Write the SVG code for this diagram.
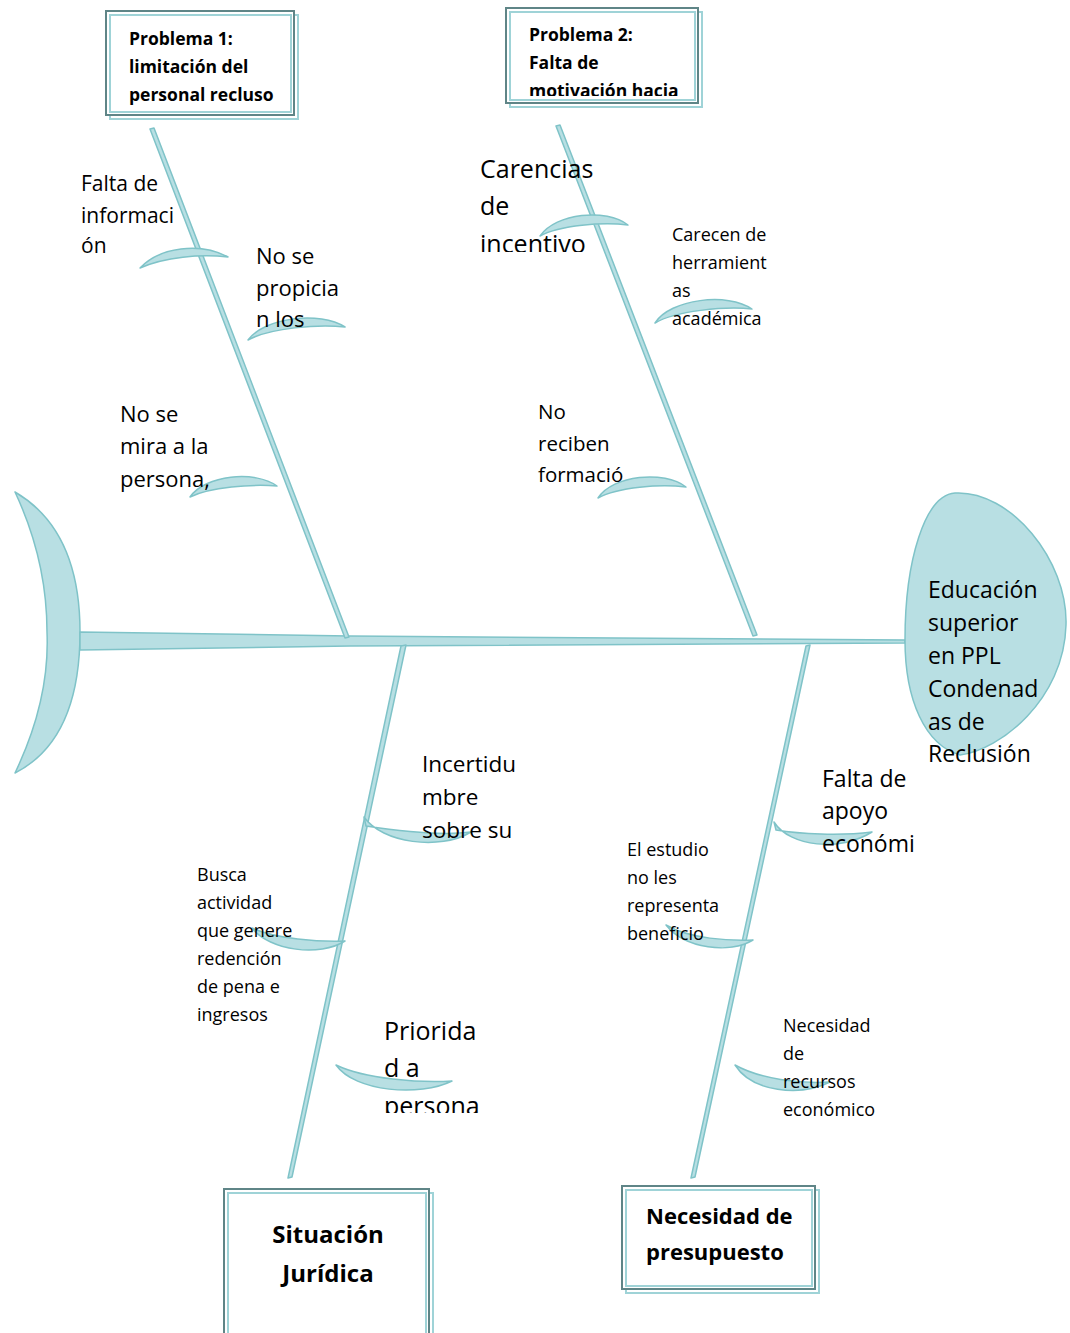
<svg xmlns="http://www.w3.org/2000/svg" width="1070" height="1333" viewBox="0 0 1070 1333">
<style>
.f{fill:#b8dfe3;stroke:#7fc3c8;stroke-width:1.5;stroke-linejoin:round}
.t{font-family:"Open Sans","Liberation Sans",sans-serif;fill:#000}
.b{font-family:"Open Sans","Liberation Sans",sans-serif;font-weight:bold;fill:#000}
.dk{fill:#fff;stroke:#5f8587;stroke-width:2}
.lt{fill:none;stroke:#9fd3d7;stroke-width:2}
</style>
<defs>
<clipPath id="c1"><rect x="500" y="0" width="210" height="96"/></clipPath>
<clipPath id="c2"><rect x="470" y="140" width="200" height="112"/></clipPath>
<clipPath id="c3"><rect x="380" y="1000" width="150" height="113"/></clipPath>
</defs>
<rect width="1070" height="1333" fill="#fff"/>
<g id="connectors">
<path class="f" d="M15,492 Q80,530 80,632 Q80,740 15,773 Q50,700 47,632 Q47,560 15,492 Z"/>
<path class="f" d="M80,632 L350,636 L905,640 L905,643 L350,646 L80,650 Z"/>
<path class="f" d="M150,129 L154,128 L349,637 L345,638 Z"/>
<path class="f" d="M556,126 L560,125 L757,635 L753,636 Z"/>
<path class="f" d="M401,646 L406,645 L292,1177 L288,1178 Z"/>
<path class="f" d="M806,646 L810,645 L695,1177 L691,1178 Z"/>
<path class="f" d="M140,268 C160,247 200,242 228,257 C200,254 165,257 140,268 Z"/>
<path class="f" d="M248,340 C265,317 320,311 345,327 C318,324 270,328 248,340 Z"/>
<path class="f" d="M190,497 C205,475 255,470 277,486 C252,484 210,487 190,497 Z"/>
<path class="f" d="M540,236 C556,213 606,208 628,225 C603,222 560,225 540,236 Z"/>
<path class="f" d="M655,323 C670,299 728,292 752,309 C725,306 675,311 655,323 Z"/>
<path class="f" d="M598,498 C613,475 664,470 686,487 C660,484 618,487 598,498 Z"/>
<path class="f" d="M364,817 C382,843 440,851 471,832 C440,836 392,830 366,826 Z"/>
<path class="f" d="M252,928 C270,951 320,957 345,941 C320,942 275,939 252,928 Z"/>
<path class="f" d="M336,1065 C355,1092 420,1097 452,1081 C420,1083 365,1079 336,1065 Z"/>
<path class="f" d="M774,822 C790,847 840,852 872,832 C840,836 800,834 776,830 Z"/>
<path class="f" d="M666,925 C685,949 730,954 753,940 C730,941 690,939 666,925 Z"/>
<path class="f" d="M735,1065 C752,1092 800,1097 830,1082 C800,1084 760,1079 735,1065 Z"/>
</g>
<g id="head">
<path class="f" d="M955,493 C1010,490 1068,560 1066,625 C1064,700 1000,750 960,755 C925,745 905,700 905,640 C905,560 925,495 955,493 Z"/>
<text class="t" font-size="23"><tspan x="928" y="598">Educación</tspan><tspan x="928" y="631">superior</tspan><tspan x="928" y="664">en PPL</tspan><tspan x="928" y="697">Condenad</tspan><tspan x="928" y="730">as de</tspan><tspan x="928" y="762">Reclusión</tspan></text>
</g>
<g id="box1">
<rect class="lt" x="110" y="15" width="188" height="104"/>
<rect class="dk" x="106" y="11" width="188" height="104"/>
<rect class="lt" x="110" y="15" width="181" height="97"/>
<text class="b" font-size="17.5"><tspan x="129" y="45">Problema 1:</tspan><tspan x="129" y="73">limitación del</tspan><tspan x="129" y="101">personal recluso</tspan></text>
</g>
<g id="box2">
<rect class="lt" x="510" y="12" width="192" height="95"/>
<rect class="dk" x="506" y="8" width="192" height="95"/>
<rect class="lt" x="510" y="12" width="185" height="88"/>
<text class="b" font-size="17.5" clip-path="url(#c1)"><tspan x="529" y="41">Problema 2:</tspan><tspan x="529" y="69">Falta de</tspan><tspan x="529" y="97">motivación hacia</tspan></text>
</g>
<g id="box3">
<rect class="lt" x="228" y="1193" width="205" height="150"/>
<rect class="dk" x="224" y="1189" width="205" height="150"/>
<rect class="lt" x="228" y="1193" width="198" height="150"/>
<text class="b" font-size="24" text-anchor="middle"><tspan x="328" y="1243">Situación</tspan><tspan x="328" y="1282">Jurídica</tspan></text>
</g>
<g id="box4">
<rect class="lt" x="626" y="1190" width="193" height="103"/>
<rect class="dk" x="622" y="1186" width="193" height="103"/>
<rect class="lt" x="626" y="1190" width="186" height="96"/>
<text class="b" font-size="22"><tspan x="646" y="1224">Necesidad de</tspan><tspan x="646" y="1260">presupuesto</tspan></text>
</g>
<g id="labels">
<text class="t" font-size="21"><tspan x="81" y="191">Falta de</tspan><tspan x="81" y="223">informaci</tspan><tspan x="81" y="253">ón</tspan></text>
<text class="t" font-size="22"><tspan x="256" y="264">No se</tspan><tspan x="256" y="296">propicia</tspan><tspan x="256" y="327">n los</tspan></text>
<text class="t" font-size="22"><tspan x="120" y="422">No se</tspan><tspan x="120" y="454">mira a la</tspan><tspan x="120" y="487">persona,</tspan></text>
<text class="t" font-size="25" clip-path="url(#c2)"><tspan x="480" y="178">Carencias</tspan><tspan x="480" y="215">de</tspan><tspan x="480" y="253">incentivo</tspan></text>
<text class="t" font-size="18"><tspan x="672" y="241">Carecen de</tspan><tspan x="672" y="269">herramient</tspan><tspan x="672" y="297">as</tspan><tspan x="672" y="325">académica</tspan></text>
<text class="t" font-size="20.5"><tspan x="538" y="419">No</tspan><tspan x="538" y="451">reciben</tspan><tspan x="538" y="482">formació</tspan></text>
<text class="t" font-size="22.5"><tspan x="422" y="772">Incertidu</tspan><tspan x="422" y="805">mbre</tspan><tspan x="422" y="838">sobre su</tspan></text>
<text class="t" font-size="18"><tspan x="197" y="881">Busca</tspan><tspan x="197" y="909">actividad</tspan><tspan x="197" y="937">que genere</tspan><tspan x="197" y="965">redención</tspan><tspan x="197" y="993">de pena e</tspan><tspan x="197" y="1021">ingresos</tspan></text>
<text class="t" font-size="25" clip-path="url(#c3)"><tspan x="384" y="1040">Priorida</tspan><tspan x="384" y="1077">d a</tspan><tspan x="384" y="1115">persona</tspan></text>
<text class="t" font-size="23"><tspan x="822" y="787">Falta de</tspan><tspan x="822" y="819">apoyo</tspan><tspan x="822" y="852">económi</tspan></text>
<text class="t" font-size="18"><tspan x="627" y="856">El estudio</tspan><tspan x="627" y="884">no les</tspan><tspan x="627" y="912">representa</tspan><tspan x="627" y="940">beneficio</tspan></text>
<text class="t" font-size="18"><tspan x="783" y="1032">Necesidad</tspan><tspan x="783" y="1060">de</tspan><tspan x="783" y="1088">recursos</tspan><tspan x="783" y="1116">económico</tspan></text>
</g>
</svg>
